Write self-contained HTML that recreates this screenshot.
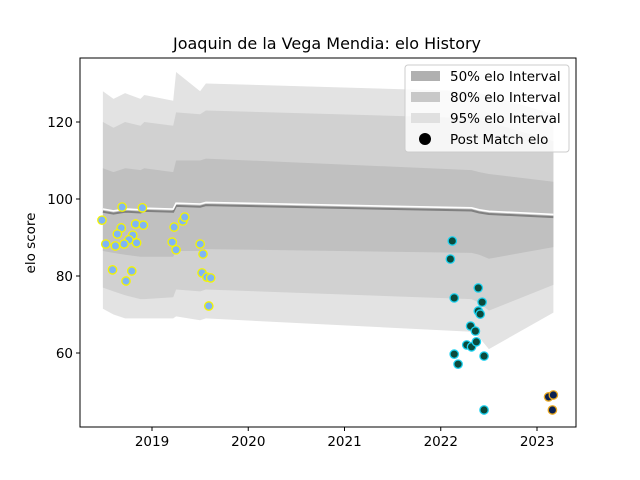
<!DOCTYPE html>
<html><head><meta charset="utf-8"><style>
html,body{margin:0;padding:0;background:#fff}
svg{display:block;font-family:"DejaVu Sans","Liberation Sans",sans-serif}
</style></head><body>
<svg id="chart" width="640" height="480" viewBox="0 0 640 480">
<rect width="640" height="480" fill="#fff"/>
<text x="327" y="49" font-size="16" text-anchor="middle" fill="#000">Joaquin de la Vega Mendia: elo History</text>
<g id="plot"></g>
<text transform="translate(35,243) rotate(-90)" font-size="13.5" text-anchor="middle">elo score</text>
<g>
<rect x="405" y="65" width="164" height="87" rx="3" fill="#fff" fill-opacity="0.8" stroke="#ccc"/>
<rect x="411" y="71" width="29" height="10" fill="#b0b0b0"/>
<text x="450" y="81" font-size="13.5">50% elo Interval</text>
<rect x="411" y="92" width="29" height="10" fill="#c8c8c8"/>
<text x="450" y="102" font-size="13.5">80% elo Interval</text>
<rect x="411" y="113" width="29" height="10" fill="#e0e0e0"/>
<text x="450" y="123" font-size="13.5">95% elo Interval</text>
<circle cx="425" cy="139" r="6" fill="#000"/>
<text x="450" y="144" font-size="13.5">Post Match elo</text>
</g>
</svg>
<script>
const bandYears = [2018.49, 2018.60, 2018.72, 2018.88, 2018.92, 2019.22, 2019.25, 2019.50, 2019.56, 2022.32, 2022.40, 2022.50, 2023.17];
const meanElo = [97.0, 96.5, 97.0, 96.8, 97.2, 97.0, 98.5, 98.3, 98.7, 97.3, 96.8, 96.4, 95.6];
const upper50 = [108, 107, 108, 107.5, 108, 107, 110, 110, 110.5, 107.5, 107, 106.5, 104.5];
const lower50 = [86.5, 86, 85.5, 85, 85, 85, 86.5, 86.5, 87, 86, 85.5, 84.5, 87.5];
const upper80 = [120, 118.5, 120, 119, 120, 119, 122.5, 122, 123, 121, 120.5, 120, 115];
const lower80 = [77, 76, 75, 74, 74, 74.5, 76.5, 76, 76.5, 74, 73, 71, 77.7];
const upper95 = [128, 126, 127.5, 126, 127, 125.5, 133, 128, 130, 128, 127.5, 127, 122];
const lower95 = [71.5, 70, 69, 69, 69, 69, 69.5, 68.5, 69, 65.5, 64, 61, 70.5];
const earlyYears = [2018.48,2018.69,2018.90,2018.68,2018.64,2018.83,2018.91,2018.80,2018.76,2018.71,2018.62,2018.52,2018.84,2019.23,2019.21,2019.25,2019.32,2019.34,2019.50,2019.53,2018.59,2018.79,2018.73,2019.52,2019.57,2019.61,2019.59];
const earlyElo = [94.5,97.9,97.7,92.5,90.9,93.5,93.2,90.6,89.4,88.3,87.8,88.3,88.6,92.7,88.8,86.8,94.3,95.3,88.3,85.7,81.6,81.3,78.7,80.8,79.7,79.5,72.2];
const midYears = [2022.12,2022.10,2022.14,2022.39,2022.43,2022.39,2022.41,2022.31,2022.36,2022.27,2022.32,2022.37,2022.14,2022.18,2022.45,2022.45];
const midElo = [89.1,84.4,74.3,76.9,73.2,70.9,70.1,67.0,65.7,62.1,61.6,62.9,59.7,57.1,59.2,45.2];
const lateYears = [2023.12,2023.17,2023.16];
const lateElo = [48.6,49.1,45.2];
const yTicks = [60, 80, 100, 120];
const xTicks = [2019, 2020, 2021, 2022, 2023];

const NS = 'http://www.w3.org/2000/svg';
const L = 80, R = 576, T = 58, B = 427;
const x = yr => 152 + (yr - 2019) * 96.25;
const y = v => 199 - (v - 100) * 3.85;
const plot = document.getElementById('plot');
function mk(tag, attrs) { const e = document.createElementNS(NS, tag); for (const k in attrs) e.setAttribute(k, attrs[k]); plot.appendChild(e); return e; }

function band(up, lo, fill, name) {
  let d = 'M' + bandYears.map((t, i) => x(t).toFixed(1) + ',' + y(up[i]).toFixed(1)).join('L');
  for (let i = bandYears.length - 1; i >= 0; i--) d += 'L' + x(bandYears[i]).toFixed(1) + ',' + y(lo[i]).toFixed(1);
  const p = mk('path', { d: d + 'Z', fill: fill });
  
  
}
band(upper95, lower95, '#e3e3e3', 'band-95');
band(upper80, lower80, '#d1d1d1', 'band-80');
band(upper50, lower50, '#c0c0c0', 'band-50');

const gl = mk('polyline', { points: bandYears.map((t, i) => x(t) + ',' + y(meanElo[i] - 0.3)).join(' '), fill: 'none', stroke: '#808080', 'stroke-width': 2 });


const wl = mk('polyline', { points: bandYears.map((t, i) => x(t) + ',' + y(meanElo[i] + 0.4)).join(' '), fill: 'none', stroke: '#ffffff', 'stroke-width': 1.6 });



function pts(ys, vs, fill, stroke, name) {
  ys.forEach((t, i) => {
    const c = mk('circle', { cx: x(t), cy: y(vs[i]), r: 4.2, fill: fill, stroke: stroke, 'stroke-width': 1.3 });
    
    
  });
}
pts(earlyYears, earlyElo, '#7fb5f5', '#f5f500', 'match-point-2018-2019');
pts(midYears, midElo, '#0b4a3c', '#1cd2f0', 'match-point-2022');
pts(lateYears, lateElo, '#0b2050', '#e8a820', 'match-point-2023');

const fr = mk('rect', { x: L, y: T, width: R - L, height: B - T, fill: 'none', stroke: '#000', 'stroke-width': 1 });



yTicks.forEach(v => {
  const tl = mk('line', { x1: L - 4, x2: L, y1: y(v), y2: y(v), stroke: '#000' });
  
  
  const tx = mk('text', { x: L - 7, y: y(v) + 5, 'font-size': 13.5, 'text-anchor': 'end' });
  tx.textContent = v;
  
  
});
xTicks.forEach(v => {
  const tl = mk('line', { x1: x(v), x2: x(v), y1: B, y2: B + 4, stroke: '#000' });
  
  
  const tx = mk('text', { x: x(v), y: B + 19, 'font-size': 13.5, 'text-anchor': 'middle' });
  tx.textContent = v;
  
  
});
</script>
</body></html>
